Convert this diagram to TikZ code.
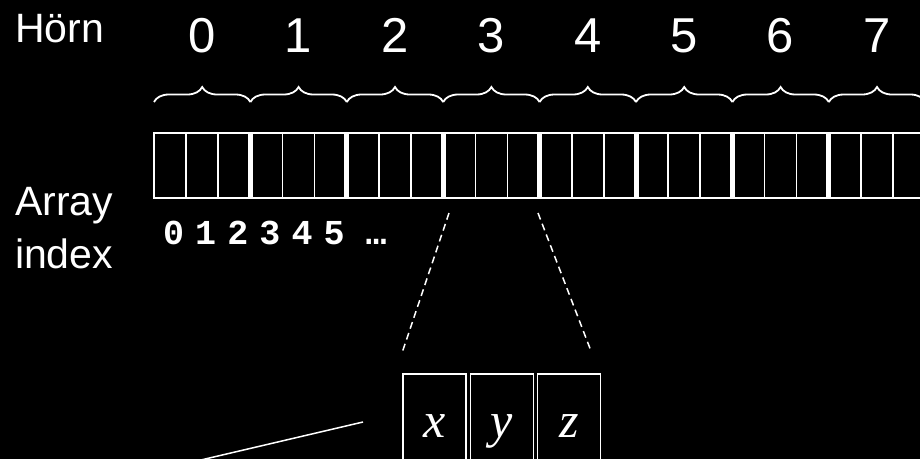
\documentclass[tikz,border=0pt]{standalone}
\usepackage{fontspec}
\setmainfont{Liberation Sans}
\setmonofont{Liberation Mono}
\newfontfamily\varfont{Liberation Serif}
\usetikzlibrary{decorations.pathreplacing}
\begin{document}
\begin{tikzpicture}[x=1pt,y=-1pt,
  every node/.style={text=white, inner sep=0pt, outer sep=0pt},
  hdr/.style={font=\fontsize{49}{55}\selectfont},
  sidelbl/.style={font=\fontsize{41}{53}\selectfont, align=left},
  cell/.style={draw=white, line width=1.6pt, minimum width=32.133pt, minimum height=65pt},
  sep/.style={draw=white, line width=5pt},
  bracestyle/.style={draw=white, line width=1.8pt, decorate, decoration={brace, amplitude=15pt}},
  idxlbl/.style={font=\ttfamily\bfseries\fontsize{35}{40}\selectfont},
  comp/.style={draw=white, line width=1.6pt, minimum width=63pt, minimum height=120pt},
  varlbl/.style={font=\varfont\itshape\fontsize{50}{55}\selectfont},
  dashedline/.style={draw=white, line width=1.5pt, dash pattern=on 7pt off 4.5pt},
  solidline/.style={draw=white, line width=1.5pt}]
\useasboundingbox (0,0) rectangle (920,459);
\fill[black] (0,0) rectangle (920,459);
\clip (0,0) rectangle (920,459);

% headings
\node[hdr, font=\fontsize{41}{48}\selectfont, anchor=base west] (horn) at (15,42) {Hörn};
\node[sidelbl, anchor=base west] (arridx) at (15,268) {Array\\index};

% vertex numbers and braces
\foreach \k in {0,...,7} {
  \node[hdr, anchor=base] (h\k) at ({202.2+96.4*\k},52) {\k};
  \coordinate (bl\k) at ({154+96.4*\k},102);
  \coordinate (br\k) at ({154+96.4*(\k+1)},102);
  \draw[bracestyle] (bl\k) -- (br\k);
}

% array cells
\foreach \i in {0,...,26} {
  \node[cell] (c\i) at ({154+32.133*\i+16.067},165.5) {};
}
\foreach \k in {1,...,8} {
  \pgfmathtruncatemacro{\n}{3*\k}
  \draw[sep] (c\n.north west) -- (c\n.south west);
}

% array index labels
\foreach \i in {0,...,5} {
  \node[idxlbl, anchor=base] (n\i) at ({173.5+32.133*\i},244) {\i};
}
\node[idxlbl, anchor=base] (ndots) at (376,244) {…};

% component boxes
\node[comp, anchor=north] (bx) at (434.5,374) {};
\node[comp, anchor=north] (by) at (502,374) {};
\node[comp, anchor=north] (bz) at (569,374) {};
\node[varlbl, anchor=base] (tx) at (bx.north |- 0,437) {x};
\node[varlbl, anchor=base] (ty) at (by.north |- 0,437) {y};
\node[varlbl, anchor=base] (tz) at (bz.north |- 0,437) {z};

% dashed zoom lines
\coordinate (d1a) at (449,213);
\coordinate (d1b) at (402,353);
\coordinate (d2a) at (538,213);
\coordinate (d2b) at (591,351);
\draw[dashedline] (d1a) -- (d1b);
\draw[dashedline] (d2a) -- (d2b);

% solid pointer line
\coordinate (s1) at (363,422);
\coordinate (s2) at (130,476.6);
\draw[solidline] (s1) -- (s2);
\end{tikzpicture}
\end{document}
